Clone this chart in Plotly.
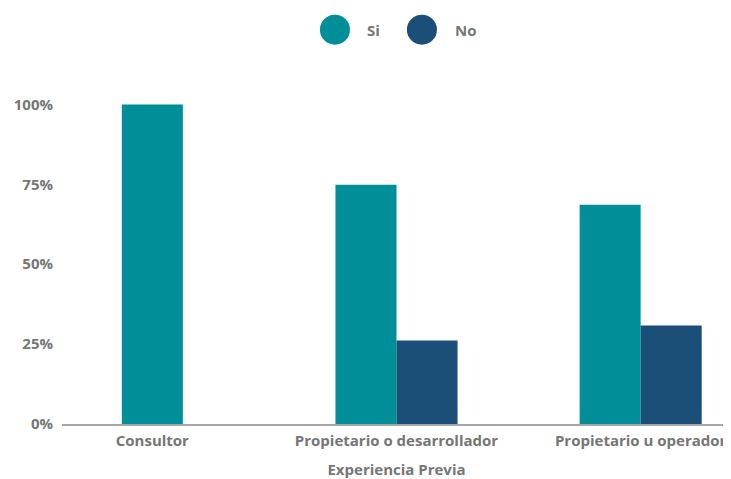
import plotly.graph_objects as go

categories = ["Consultor", "Propietario o desarrollador", "Propietario u operador"]
si_values = [100.0, 74.9, 68.6]
no_values = [None, 26.1, 30.8]
series_names = ["Si", "No"]
y_ticks = [0, 25, 50, 75, 100]
y_tick_labels = [f"{v}%" for v in y_ticks]

TEAL = "#008f99"
NAVY = "#1b4f77"
GRAY = "#767676"
FONT = "'Open Sans', Lato, sans-serif"
BAR_W = 0.25

# Bars with a missing partner are centred on their category (skip-null grouping)
si_offsets = [-BAR_W if n is not None else -BAR_W / 2 for n in no_values]
no_offsets = [0 for _ in no_values]

fig = go.Figure()
fig.add_trace(go.Bar(x=categories, y=si_values, name=series_names[0],
                     marker=dict(color=TEAL, line=dict(width=0)),
                     width=BAR_W, offset=si_offsets, showlegend=False))
fig.add_trace(go.Bar(x=categories, y=no_values, name=series_names[1],
                     marker=dict(color=NAVY, line=dict(width=0)),
                     width=BAR_W, offset=no_offsets, showlegend=False))

# Custom legend with large circles
legend_items = [(series_names[0], TEAL, 0.408, 0.453), (series_names[1], NAVY, 0.538, 0.584)]
for name, color, cx, tx in legend_items:
    fig.add_shape(type="circle", xref="paper", yref="paper",
                  xsizemode="pixel", ysizemode="pixel",
                  xanchor=cx, yanchor=1.217,
                  x0=-15, x1=15, y0=-15, y1=15,
                  fillcolor=color, line_width=0)
    fig.add_annotation(text=f"<b>{name}</b>", xref="paper", yref="paper",
                       x=tx, y=1.217, xanchor="left", yanchor="middle",
                       showarrow=False, font=dict(family=FONT, size=15, color=GRAY))

fig.update_layout(
    width=723, height=471,
    margin=dict(l=54, r=0, t=92, b=55),
    barmode="overlay",
    plot_bgcolor="white", paper_bgcolor="white",
    font=dict(family=FONT, size=15, color=GRAY),
    showlegend=False,
)
fig.update_xaxes(
    range=[-0.37, 2.37],
    showgrid=False, showline=True, linecolor="#a6a6a6", linewidth=1.5,
    tickfont=dict(family=FONT, size=15, color=GRAY, weight="bold"),
    ticklabelstandoff=2,
    title=dict(text="<b>Experiencia Previa</b>", standoff=18,
               font=dict(family=FONT, size=15, color=GRAY)),
    automargin=False,
)
fig.update_yaxes(
    range=[0, 101.4],
    tickvals=y_ticks, ticktext=y_tick_labels,
    showgrid=False, zeroline=False, showline=False,
    tickfont=dict(family=FONT, size=15, color=GRAY, weight="bold"),
    ticklabelstandoff=8,
    automargin=False,
)

fig.write_html("out.html")
